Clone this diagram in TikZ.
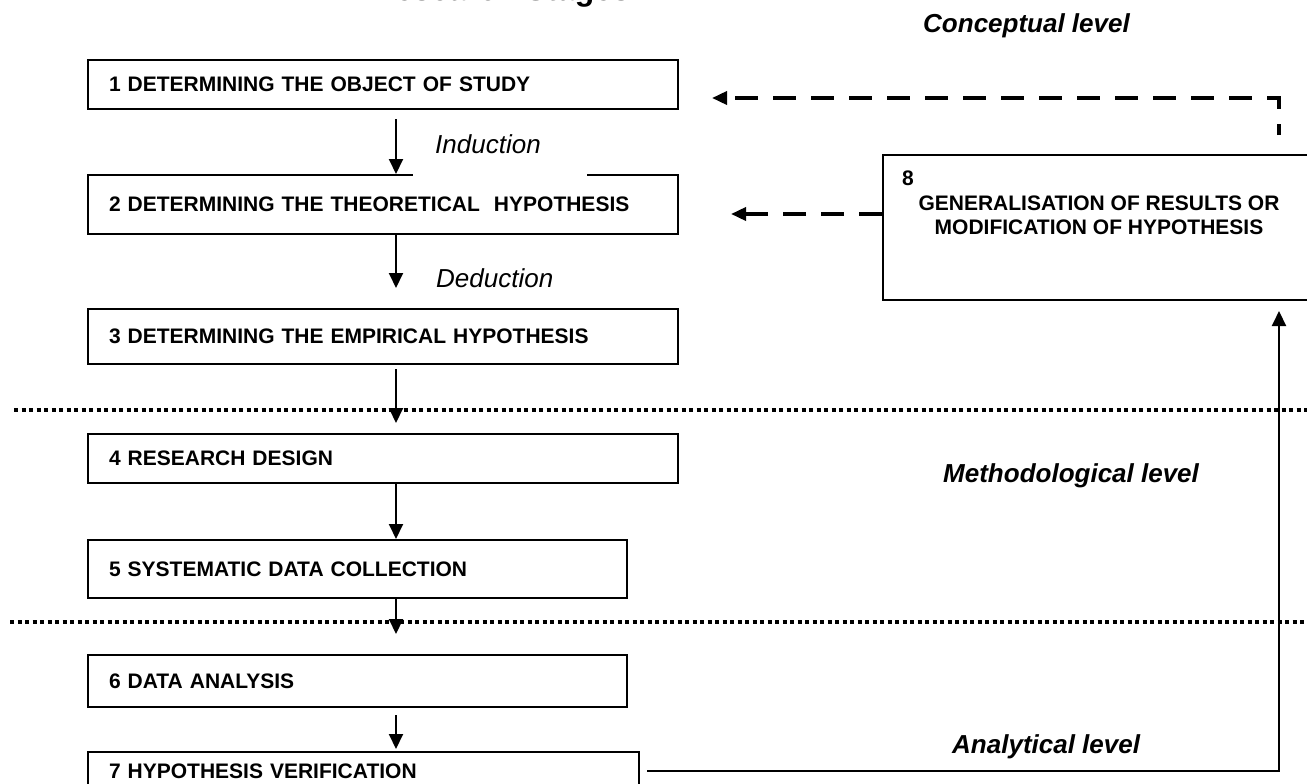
\documentclass[tikz,border=0pt]{standalone}
\usepackage{fontspec}
\setmainfont{Liberation Sans}
\usetikzlibrary{arrows.meta,calc}
\begin{document}
\begin{tikzpicture}[x=1pt,y=-1pt,
  stagebox/.style={draw, line width=2pt, anchor=north west, inner xsep=21pt, inner ysep=0pt,
    align=left, font=\bfseries\fontsize{21}{25}\selectfont},
  boxtext/.style={font=\bfseries\fontsize{21}{24}\selectfont, inner sep=0pt},
  flow/.style={line width=2pt, -{Triangle[width=14pt,length=15pt]}},
  dasharr/.style={line width=3.5pt, dash pattern=on 23pt off 15pt, -{Triangle[width=13pt,length=15pt]}},
  levellabel/.style={font=\bfseries\itshape\fontsize{26}{30}\selectfont, inner sep=0pt, anchor=base west},
  linklabel/.style={font=\itshape\fontsize{26}{30}\selectfont, inner sep=0pt},
  dotline/.style={line width=3.3pt, dash pattern=on 4pt off 3.5pt}]
\useasboundingbox[fill=white] (0,0) rectangle (1307,784);

% title (cut by the top edge)
\node[font=\bfseries\fontsize{32}{38}\selectfont, anchor=base west, inner sep=0pt] (title) at (372,0.5) {Research Stages};

% level separators
\draw[dotline] (14,410) -- (1307,410);
\draw[dotline] (10,622) -- (1307,622);

% stage boxes
\node[stagebox, text width=548pt, minimum height=49pt] (b1) at (87,59) {1 DETERMINING THE OBJECT OF STUDY};
\node[stagebox, text width=548pt, minimum height=59pt] (b2) at (87,174) {2 DETERMINING THE THEORETICAL\ \ HYPOTHESIS};
\node[stagebox, text width=548pt, minimum height=55pt] (b3) at (87,308) {3 DETERMINING THE EMPIRICAL HYPOTHESIS};
\node[stagebox, text width=548pt, minimum height=49pt] (b4) at (87,433) {4 RESEARCH DESIGN};
\node[stagebox, text width=497pt, minimum height=58pt] (b5) at (87,539) {5 SYSTEMATIC DATA COLLECTION};
\node[stagebox, text width=497pt, minimum height=52pt] (b6) at (87,654) {6 DATA ANALYSIS};
\node[stagebox, text width=509pt, minimum height=38pt] (b7) at (87,751) {7 HYPOTHESIS VERIFICATION};
\node[stagebox, minimum width=433pt, minimum height=145pt] (b8) at (882,154) {};
\node[boxtext, anchor=west] (n8) at (902,178) {8};
\node[boxtext, align=center] (t8) at (1099,215) {GENERALISATION OF RESULTS OR\\MODIFICATION OF HYPOTHESIS};

% link labels
\node[fill=white, inner sep=0pt, anchor=north west, minimum width=174pt, minimum height=62pt] (indbg) at (413,114) {};
\node[linklabel, anchor=base west] (ind) at (435,153) {Induction};
\node[linklabel, anchor=base west] (ded) at (436,287) {Deduction};

% level labels
\node[levellabel] (lc) at (923,33) {Conceptual level};
\node[levellabel] (lm) at (943,482) {Methodological level};
\node[levellabel] (la) at (952,753) {Analytical level};

% flow arrows
\coordinate (ax) at (396,0);
\draw[flow] ($(b1.south -| ax)+(0,9)$) -- (b2.north -| ax);
\draw[flow] (b2.south -| ax) -- ($(b3.north -| ax)+(0,-20)$);
\draw[flow] ($(b3.south -| ax)+(0,4)$) -- ($(b4.north -| ax)+(0,-10)$);
\draw[flow] (b4.south -| ax) -- (b5.north -| ax);
\draw[flow] (b5.south -| ax) -- ($(b6.north -| ax)+(0,-20)$);
\draw[flow] ($(b6.south -| ax)+(0,7)$) -- ($(b7.north -| ax)+(0,-2)$);

% feedback from verification to generalisation
\coordinate (vx) at (1279,0);
\draw[flow] ($(b7.east)+(7,0)$) -| ($(b8.south -| vx)+(0,10)$);

% dashed feedback arrows
\draw[dasharr, dash phase=11.5pt] ($(b8.north -| vx)+(0,-19)$) |- ($(b1.east)+(33,13.5)$);
\draw[dasharr] ($(b8.west)+(0,-13.5)$) -- ($(b2.east)+(52,9.5)$);
\end{tikzpicture}
\end{document}
